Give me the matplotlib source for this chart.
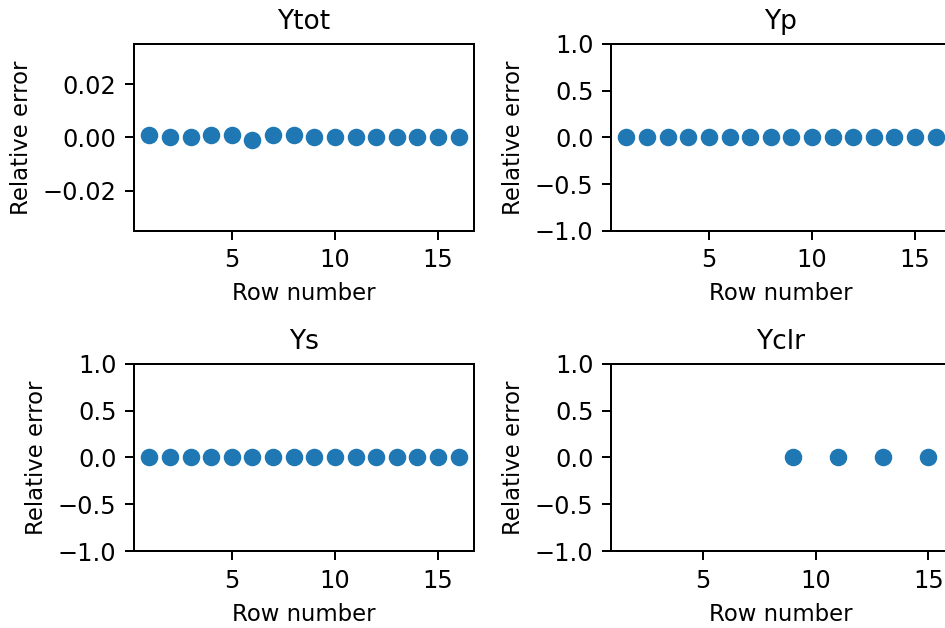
import matplotlib
matplotlib.use('Agg')
import matplotlib.pyplot as plt
import numpy as np

# 행 번호별 상대 오차
rows = np.arange(1, 17)
ytot_err = [0.0008, 0.0, 0.0, 0.0008, 0.0008, -0.001, 0.0008, 0.0008,
            0.0, 0.0, 0.0, 0.0, 0.0, 0.0, 0.0, 0.0]
yp_err = [0.0] * 16
ys_err = [0.0] * 16
yclr_rows = [9, 11, 13, 15]
yclr_err = [0.0, 0.0, 0.0, 0.0]

ytot_ticks = [-0.02, 0.0, 0.02]
unit_ticks = [-1.0, -0.5, 0.0, 0.5, 1.0]

plt.rcParams['axes.titlesize'] = 10.6
plt.rcParams['axes.labelsize'] = 9.1
plt.rcParams['xtick.labelsize'] = 9.6
plt.rcParams['ytick.labelsize'] = 9.6

fig = plt.figure(figsize=(945 / 180, 628 / 180), dpi=180)

# 축 위치 (figure 좌표)
pos = {
    'Ytot': [0.1418, 0.6322, 0.3598, 0.2978],
    'Yp':   [0.6466, 0.6322, 0.3598, 0.2978],
    'Ys':   [0.1418, 0.1226, 0.3598, 0.2978],
    'Yclr': [0.6466, 0.1226, 0.3598, 0.2978],
}
series = {
    'Ytot': (rows, ytot_err),
    'Yp': (rows, yp_err),
    'Ys': (rows, ys_err),
    'Yclr': (yclr_rows, yclr_err),
}

for name in ['Ytot', 'Yp', 'Ys', 'Yclr']:
    ax = fig.add_axes(pos[name])
    x, y = series[name]
    ax.scatter(x, y)
    ax.set_title(name)
    ax.set_xlabel('Row number')
    ax.set_ylabel('Relative error')
    if name == 'Ytot':
        ax.set_ylim(-0.035, 0.035)
        ax.set_yticks(ytot_ticks)
        ax.set_yticklabels(['\u22120.02', '0.00', '0.02'])
    else:
        ax.set_ylim(-1, 1)
        ax.set_yticks(unit_ticks)
        ax.set_yticklabels(['\u22121.0', '\u22120.5', '0.0', '0.5', '1.0'])
    if name == 'Yclr':
        ax.set_xlim(0.93, 16.0)

fig.savefig('out.png', dpi=180)
